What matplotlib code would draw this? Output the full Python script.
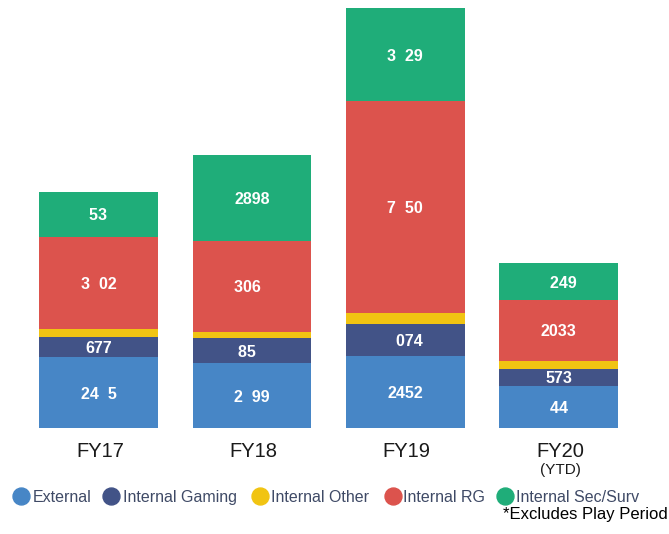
import matplotlib.pyplot as plt
from matplotlib.lines import Line2D

categories = ["FY17", "FY18", "FY19", "FY20"]
sub_labels = ["", "", "", "(YTD)"]
series_names = ["External", "Internal Gaming", "Internal Other", "Internal RG", "Internal Sec/Surv"]

external = [2415, 2199, 2452, 1441]
internal_gaming = [677, 851, 1074, 573]
internal_other = [260, 215, 370, 273]
internal_rg = [3102, 3061, 7150, 2033]
internal_sec = [1531, 2898, 3129, 1249]
series = [external, internal_gaming, internal_other, internal_rg, internal_sec]
show_values = [True, True, False, True, True]

colors = ["#4786c6", "#425387", "#f1c412", "#dc534d", "#1fad79"]
legend_text_color = "#3f4a66"

FONT = ["Liberation Sans", "DejaVu Sans"]
W, H = 669, 534


def fmt(v):
    # the source font had no "1" glyph, so those digits show up as gaps
    return str(v).replace("1", "  ")


fig = plt.figure(figsize=(W / 100, H / 100), dpi=100)
ax = fig.add_axes([0, (H - 428.3) / H, 1, 428.3 / H])

x = range(len(categories))
bottom = [0] * len(categories)
for vals, color, show in zip(series, colors, show_values):
    ax.bar(x, vals, width=0.7725, bottom=bottom, color=color, linewidth=0)
    if show:
        for i, v in enumerate(vals):
            ax.text(i, bottom[i] + v / 2, fmt(v), ha="center", va="center_baseline",
                    color="white", fontsize=11.5, fontweight="bold", family=FONT)
    bottom = [b + v for b, v in zip(bottom, vals)]

for i, (cat, sub) in enumerate(zip(categories, sub_labels)):
    ax.annotate(cat, xy=(i, 0), xytext=(1, -20.7), textcoords="offset points",
                ha="center", va="baseline", fontsize=14.5, color="#1a1a1a",
                family=FONT, annotation_clip=False)
    if sub:
        ax.annotate(sub, xy=(i, 0), xytext=(1, -33), textcoords="offset points",
                    ha="center", va="baseline", fontsize=11, color="#1a1a1a",
                    family=FONT, annotation_clip=False)

ax.set_xlim(-0.642, 3.719)
ax.set_ylim(0, 428.3 * 33.75)
ax.axis("off")

# legend row, laid out like the original (circle + label)
marker_x = [21, 111, 260, 393, 505]
text_x = [33, 123, 271, 403, 516]
for name, color, mx, tx in zip(series_names, colors, marker_x, text_x):
    fig.add_artist(Line2D([mx / W], [1 - 496 / H], transform=fig.transFigure,
                          marker="o", markersize=12.2, color=color, linestyle="none"))
    fig.text(tx / W, 1 - 502 / H, name, ha="left", va="baseline", fontsize=11.5,
             color=legend_text_color, family=FONT)

fig.text(1 - 1 / W, 1 - 519 / H, "*Excludes Play Period", ha="right", va="baseline",
         fontsize=12, color="black", family=FONT)

fig.savefig("out.png", dpi=100)
